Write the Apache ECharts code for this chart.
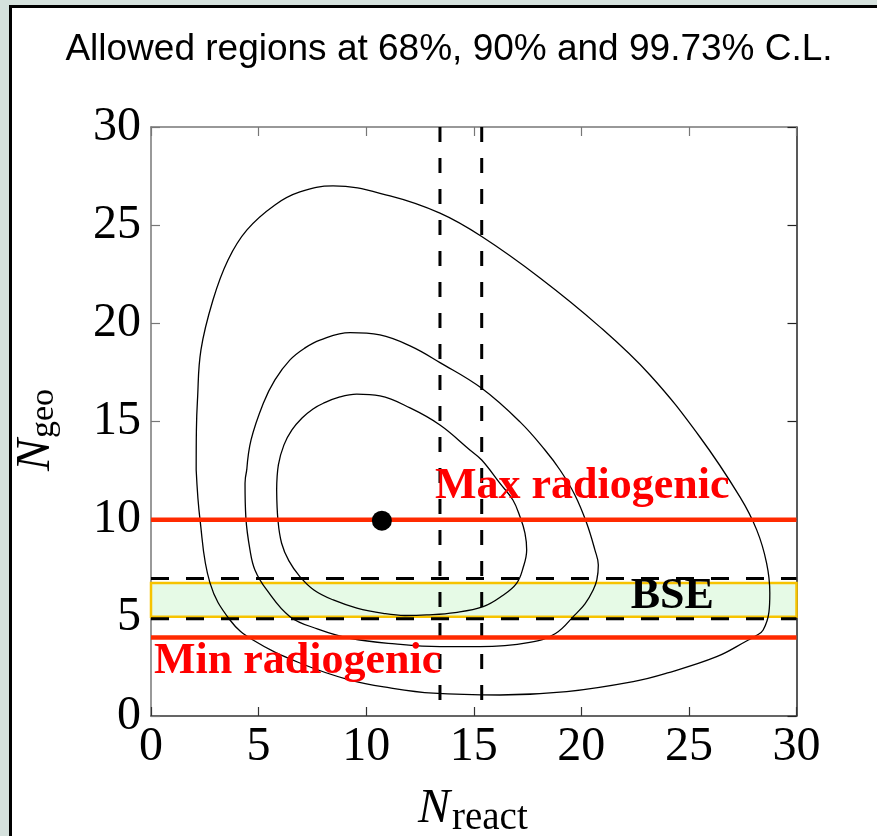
<!DOCTYPE html>
<html>
<head>
<meta charset="utf-8">
<script src="https://cdn.jsdelivr.net/npm/echarts@6/dist/echarts.min.js"></script>
<style>
  html, body { margin:0; padding:0; width:877px; height:836px; overflow:hidden; background:#d5e1dd; }
  #panel { position:absolute; left:9px; top:5px; width:900px; height:900px; background:#fff;
           border-left:3px solid #000; border-top:3px solid #000; }
  #chart { position:absolute; left:0; top:0; width:877px; height:836px; }
</style>
</head>
<body>
<div id="panel"></div>
<div id="chart"></div>
<script>
// ---------------- data ----------------
const titleText = 'Allowed regions at 68%, 90% and 99.73% C.L.';
const axisMin = 0, axisMax = 30, axisStep = 5;

// contour: 68% C.L.
const contour68 = [
  [5.84,11.51],[5.92,12.79],[6.18,13.81],[6.55,14.57],[7.02,15.18],[7.53,15.64],[8.01,15.93],[8.78,16.25],
  [9.56,16.39],[10.64,16.30],[12.04,15.69],[13.43,14.82],[14.82,13.55],[15.37,13.04],[16.22,11.85],[16.82,11.0],
  [17.15,10.15],[17.38,9.32],[17.46,8.46],[17.29,7.54],[16.99,6.76],[16.31,6.11],[15.44,5.57],
  [14.13,5.27],[12.81,5.15],[11.80,5.12],[10.79,5.23],[9.57,5.50],[8.47,5.91],[7.57,6.42],
  [6.92,7.10],[6.41,7.90],[6.07,8.80],[5.90,9.98],[5.84,11.51]
];
// contour: 90% C.L.
const contour90 = [
  [4.45,12.53],[4.65,14.06],[5.22,15.93],[5.76,17.12],[6.46,18.14],[7.16,18.75],[7.85,19.15],[9.25,19.53],
  [10.64,19.41],[12.04,18.85],[13.43,18.0],[15.37,16.69],[17.15,14.98],[18.31,13.55],[19.01,12.53],
  [19.70,11.26],[20.25,9.82],[20.63,8.46],[20.79,7.69],[20.72,6.93],[20.55,6.42],[20.17,5.71],
  [19.70,5.15],[18.80,4.20],[17.60,3.75],[15.29,3.53],[13.43,3.53],[11.34,3.67],[9.25,3.96],
  [7.76,4.43],[6.46,5.06],[5.38,6.42],[4.83,7.44],[4.60,8.46],[4.41,10.09],[4.37,11.85],[4.45,12.53]
];
// contour: 99.73% C.L.
const contour9973 = [
  [2.10,12.53],[2.11,14.57],[2.16,16.10],[2.32,18.64],[2.88,21.19],[3.58,23.23],[4.46,24.76],[5.76,26.03],
  [6.92,26.69],[8.46,27.0],[11.11,26.49],[13.43,25.61],[15.37,24.42],[18.08,22.31],[20.86,19.82],
  [23.19,17.37],[25.51,14.21],[27.37,11.16],[28.15,9.48],[28.61,7.79],[28.76,6.27],[28.72,5.30],
  [28.45,4.38],[28.11,4.08],[27.68,3.82],[26.29,3.02],[23.96,2.18],[22.41,1.75],[19.32,1.24],
  [16.22,1.07],[13.12,1.16],[11.11,1.43],[9.25,1.83],[6.92,2.70],[4.74,3.87],[3.67,4.89],
  [2.74,6.78],[2.28,9.98],[2.10,12.53]
];
const bestFit = [10.73, 9.95];
const maxRadiogenic = 10;
const minRadiogenic = 4;
const bseBand = [5.05, 6.77];
const bseDashed = [4.95, 7.0];
const reactDashed = [13.43, 15.37];
const labelMax = 'Max radiogenic';
const labelMin = 'Min radiogenic';
const labelBSE = 'BSE';

// ---------------- chart ----------------
const chart = echarts.init(document.getElementById('chart'), null, {renderer:'canvas'});
const serif = '"Liberation Serif", "DejaVu Serif", serif';

function hLine(y){ return [[axisMin, y], [axisMax, y]]; }
function vLine(x){ return [[x, axisMax], [x, axisMin]]; }

const contourStyle = {color:'#000', width:1.3};
const series = [];
[contour68, contour90, contour9973].forEach(function(c, i){
  series.push({type:'line', name:['68%','90%','99.73%'][i], data:c, smooth:0.4, symbol:'none',
    lineStyle:contourStyle, z:2, silent:true});
});
reactDashed.forEach(function(x){
  series.push({type:'line', data:vLine(x), symbol:'none', z:3, silent:true,
    lineStyle:{color:'#000', width:3, type:[15,16]}});
});
series.push({type:'line', data:hLine(bseBand[0]), symbol:'none', lineStyle:{width:0, opacity:0}, z:4, silent:true,
  markArea:{silent:true, itemStyle:{color:'rgba(207,245,207,0.53)', borderColor:'#f7c300', borderWidth:2.5},
    data:[[{coord:[axisMin, bseBand[0]]},{coord:[axisMax, bseBand[1]]}]]}});
bseDashed.forEach(function(y){
  series.push({type:'line', data:hLine(y), symbol:'none', z:5, silent:true,
    lineStyle:{color:'#000', width:3, type:[18,17]}});
});
[maxRadiogenic, minRadiogenic].forEach(function(y){
  series.push({type:'line', data:hLine(y), symbol:'none', z:6, silent:true,
    lineStyle:{color:'#ff2a00', width:4.5}});
});
series.push({type:'scatter', data:[bestFit], symbol:'circle', symbolSize:20,
  itemStyle:{color:'#000', opacity:1}, z:7, silent:true});
const redLabel = {show:true, position:'inside', align:'left', verticalAlign:'middle', color:'#ff0000', opacity:1,
  fontFamily:serif, fontWeight:'bold', fontSize:44};
series.push({type:'scatter', symbolSize:0, z:8, silent:true, itemStyle:{opacity:1}, data:[
  {value:[13.2, 11.7], label:Object.assign({}, redLabel, {formatter:labelMax})},
  {value:[0.14, 2.75], label:Object.assign({}, redLabel, {formatter:labelMin})},
  {value:[24.23, 6.06], label:Object.assign({}, redLabel, {formatter:labelBSE, align:'center', color:'#000'})}
]});

function axisCommon(color, showLabel){
  return {type:'value', min:axisMin, max:axisMax, interval:axisStep,
    axisLine:{show:true, onZero:false, lineStyle:{color:color, width:1.5}},
    axisTick:{show:true, inside:true, length:9, lineStyle:{color:color, width:1.2}},
    splitLine:{show:false},
    axisLabel:{show:showLabel, color:'#000', fontFamily:serif, fontSize:48}};
}
const xb = axisCommon('#333', true); xb.position = 'bottom'; xb.axisLabel.margin = 7;
const xt = axisCommon('#777', false); xt.position = 'top';
const yl = axisCommon('#777', true); yl.position = 'left'; yl.axisLabel.margin = 10;
const yr = axisCommon('#222', false); yr.position = 'right';

chart.setOption({
  animation:false,
  backgroundColor:'transparent',
  title:{text:titleText, left:449, textAlign:'center', top:31, padding:0,
    textStyle:{fontFamily:'"Liberation Sans", Arial, sans-serif', fontSize:37, fontWeight:'normal', color:'#000'}},
  grid:{left:151, right:80.5, top:127, bottom:120, containLabel:false},
  xAxis:[xb, xt],
  yAxis:[yl, yr],
  series:series,
  graphic:[
    {type:'text', x:418, y:809, style:{text:'N', font:'italic 48px ' + serif, fill:'#000', verticalAlign:'middle', align:'left'}},
    {type:'text', x:452, y:819, style:{text:'react', font:'39px ' + serif, fill:'#000', verticalAlign:'middle', align:'left'}},
    {type:'group', x:34, y:431, rotation:Math.PI/2, children:[
      {type:'text', x:-40, y:2, style:{text:'N', font:'italic 48px ' + serif, fill:'#000', verticalAlign:'middle', align:'left'}},
      {type:'text', x:-7, y:10, style:{text:'geo', font:'34px ' + serif, fill:'#000', verticalAlign:'middle', align:'left'}}
    ]}
  ]
});
</script>
</body>
</html>
